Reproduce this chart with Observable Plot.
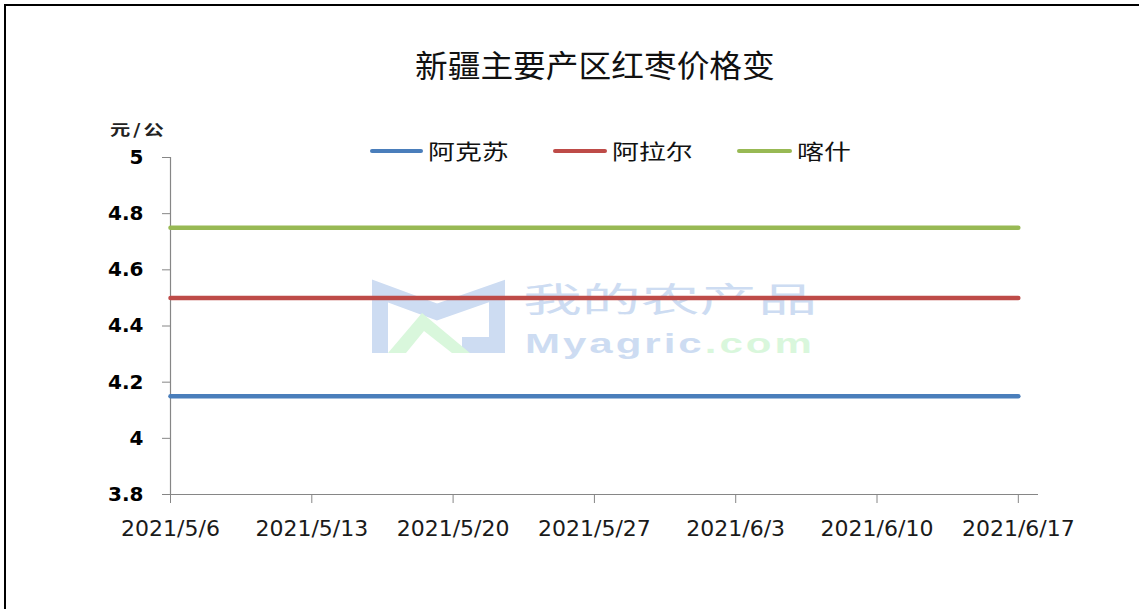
<!DOCTYPE html>
<html>
<head>
<meta charset="utf-8">
<script src="https://cdn.jsdelivr.net/npm/d3@7"></script>
<script src="https://cdn.jsdelivr.net/npm/@observablehq/plot@0.6"></script>
<style>
  html, body { margin: 0; padding: 0; background: #fff; }
  #wrap { position: relative; width: 1139px; height: 609px; overflow: hidden; background: #fff; }
  #frame { position: absolute; left: 4px; top: 4px; right: -10px; bottom: -10px; border-top: 2px solid #000; border-left: 2px solid #000; }
  .abs { position: absolute; white-space: nowrap; line-height: 1; }
  #title { left: 415px; top: 41px; font: 31px "Noto Sans CJK SC"; color: #111; transform: scaleX(1.055); transform-origin: left top; }
  #ylabel { left: 110px; top: 118px; font: bold 15px "Noto Sans CJK SC"; color: #222; transform: scaleX(1.35); transform-origin: left top; letter-spacing: 2px; }
  .leg-line { position: absolute; height: 4px; border-radius: 2px; }
  .leg-text { position: absolute; font: 21px "Noto Sans CJK SC"; color: #111; transform: scaleX(1.28); transform-origin: left top; line-height: 1; white-space: nowrap; }
  #chart { position: absolute; left: 0; top: 0; }
  #chart [aria-label="y-axis tick"], #chart [aria-label="x-axis tick"] { stroke: #868686; }
  #chart [aria-label="y-axis tick label"] { font: bold 20px "DejaVu Sans"; fill: #000; }
  #chart [aria-label="x-axis tick label"] { font: 22px "DejaVu Sans"; fill: #1a1a1a; }
  .wm { position: absolute; white-space: nowrap; line-height: 1; }
</style>
</head>
<body>
<div id="wrap">
  <div id="frame"></div>
  <svg class="abs" style="left:0;top:0" width="1139" height="609">
    <g fill="none" stroke="#cddcf2" stroke-width="16" stroke-linejoin="miter">
      <polyline points="380,353 380,291 437,312 497,291 497,345 462,345"></polyline>
    </g>
    <polygon points="388,353 422,313 470,353 452,353 424,331 406,353" fill="#d9f7dc"></polygon>
  </svg>
  <div class="wm" style="left:523px;top:273px;font:34px 'Noto Sans CJK SC';color:#cddcf2;transform:scaleX(1.73);transform-origin:left top;">我的农产品</div>
  <div class="wm" style="left:525px;top:328px;font:bold 28px 'Liberation Sans';color:#cddcf2;letter-spacing:2px;transform:scaleX(1.5);transform-origin:left top;">Myagric<span style="color:#d9f7dc">.com</span></div>
  <div id="chart"></div>
  <div id="title" class="abs">新疆主要产区红枣价格变</div>
  <div id="ylabel" class="abs">元/公</div>
  <div id="legend"></div>
</div>
<script>
// ---- data ----
const dates = ["2021-05-06", "2021-05-13", "2021-05-20", "2021-05-27", "2021-06-03", "2021-06-10", "2021-06-17"];
const axisEnd = "2021-06-18";
const series = ["阿克苏", "阿拉尔", "喀什"];
const prices = [4.15, 4.5, 4.75];
const colors = ["#4a7ebb", "#be4b48", "#98b954"];
const yTicks = [3.8, 4, 4.2, 4.4, 4.6, 4.8, 5];

const rows = [];
series.forEach((s, i) => dates.forEach(d => rows.push({date: new Date(d), series: s, price: prices[i]})));
const dateObjs = dates.map(d => new Date(d));
const fmt = d => `${d.getUTCFullYear()}/${d.getUTCMonth() + 1}/${d.getUTCDate()}`;

const chart = Plot.plot({
  width: 1139,
  height: 609,
  marginLeft: 170,
  marginRight: 101,
  marginTop: 157,
  marginBottom: 115,
  style: {background: "transparent", fontFamily: "DejaVu Sans", overflow: "visible"},
  x: {type: "utc", domain: [new Date(dates[0]), new Date(axisEnd)]},
  y: {domain: [yTicks[0], yTicks[yTicks.length - 1]]},
  color: {domain: series, range: colors},
  marks: [
    Plot.ruleY([yTicks[0]], {stroke: "#868686", strokeWidth: 1.2}),
    Plot.ruleX([new Date(dates[0])], {stroke: "#868686", strokeWidth: 1.2}),
    Plot.axisY({ticks: yTicks, tickSize: 8, tickPadding: 19, tickFormat: d => String(d), label: null}),
    Plot.axisX({ticks: dateObjs, tickSize: 9, tickPadding: 17, tickFormat: fmt, label: null}),
    Plot.lineY(rows, {x: "date", y: "price", z: "series", stroke: "series", strokeWidth: 4.5, strokeLinecap: "round"})
  ]
});
document.getElementById("chart").appendChild(chart);

// ---- legend ----
const legend = document.getElementById("legend");
const legPos = [[370, 53, 428], [553, 54, 612], [737, 55, 797]];
series.forEach((s, i) => {
  const [lx, lw, tx] = legPos[i];
  const line = document.createElement("div");
  line.className = "leg-line";
  line.style.cssText = `left:${lx}px;top:149px;width:${lw}px;background:${colors[i]}`;
  legend.appendChild(line);
  const t = document.createElement("div");
  t.className = "leg-text";
  t.style.left = tx + "px";
  t.style.top = "140px";
  t.textContent = s;
  legend.appendChild(t);
});
</script>
</body>
</html>
